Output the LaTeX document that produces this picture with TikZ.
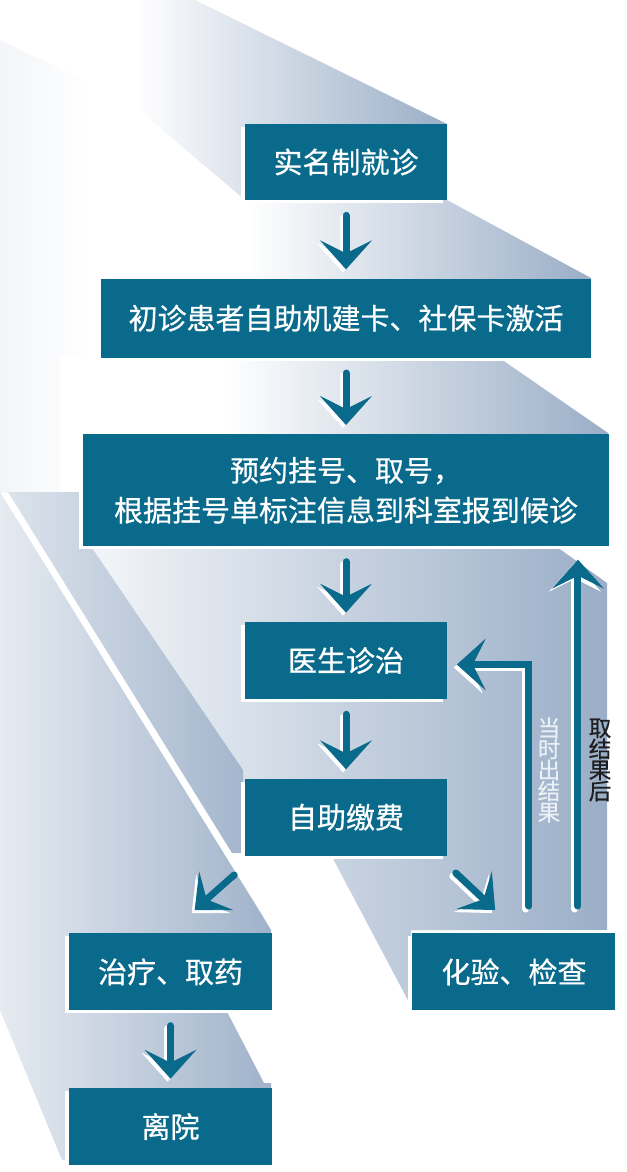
\documentclass[tikz,border=0pt]{standalone}
\usepackage{fontspec}
\newfontfamily\cjk[FakeBold=0.6]{Noto Sans CJK SC}
\usetikzlibrary{arrows.meta, positioning, calc, shadows}
\definecolor{HP_TEAL}{HTML}{0A6A8B}
\definecolor{HP_SLATE}{HTML}{9AAEC7}
\definecolor{HP_PALE}{HTML}{F3F5F8}
\definecolor{HP_SNOW}{HTML}{EAF0F5}
\definecolor{HP_INK}{HTML}{1E1E1E}
\pgfdeclarehorizontalshading{stairfade}{100bp}{color(0bp)=(white); color(25bp)=(white);
  color(40bp)=(white); color(75bp)=(HP_SLATE); color(100bp)=(HP_SLATE)}
\tikzset{
  stage/.style={
    rectangle, inner sep=0pt,
    text centered, align=center,
    fill=HP_TEAL, text=white,
    font=\cjk\fontsize{16.5}{22.7}\selectfont,
    drop shadow={shadow xshift=-0.08cm, shadow yshift=-0.06cm,
      fill=white, opacity=1}},
  narrow/.style={stage, minimum width=4.06cm, minimum height=1.54cm},
  tag/.style={align=center, inner sep=0pt,
    font=\cjk\fontsize{12.8}{12}\selectfont},
  arr/.style={draw=HP_TEAL, line width=0.14cm, line cap=round,
    -{Stealth[length=0.58cm, width=1.04cm, inset=0.26cm, line width=0.5pt]}},
  glint/.style={arr, draw=white,
    transform canvas={xshift=-0.06cm, yshift=-0.06cm}},
}
\begin{document}
\begin{tikzpicture}[x=0.02cm, y=-0.02cm, node distance=1.54cm]

  \useasboundingbox (0,0) rectangle (626,1172);

  % staircase backdrop
  \begin{scope}
    \clip (0,0) rectangle (626,1172);
    \shade[left color=HP_PALE, right color=white]
      (0,0) rectangle (90,492);
    \shade[shading=stairfade]
      (0,0) -- (195,0) -- (447,124) -- (447,200) -- (245,200)
      -- (127,100) -- (0,40) -- cycle;
    \shade[shading=stairfade]
      (120,200) -- (447,200) -- (591,278) -- (591,357)
      -- (101,357) -- (101,260) -- cycle;
    \shade[shading=stairfade]
      (60,357) -- (498,357) -- (608,433) -- (608,545) -- (60,545) -- cycle;
    \shade[left color=HP_SLATE!12, right color=HP_SLATE]
      (90,545) -- (557,547) -- (607,583) -- (607,930) -- (411,930)
      -- (411,1006) -- (330,853) -- (243,853) -- (243,770) -- cycle;
    \shade[left color=HP_SLATE!25, right color=HP_SLATE!95]
      (0,492) -- (262,915) -- (271,930) -- (271,1006) -- (224,1006)
      -- (264,1083) -- (271,1083) -- (271,1160) -- (62,1160)
      -- (0,1010) -- cycle;
    \shade[left color=HP_SLATE!35, right color=HP_SLATE!90]
      (8,492) -- (82,492) -- (82,545) -- (90,545) -- (243,770)
      -- (243,853) -- (232,853) -- cycle;
  \end{scope}

  % steps
  \node[stage, minimum width=4.04cm, minimum height=1.52cm] (visit) at (346,162)
    {实名制就诊};
  \node[stage, minimum width=9.8cm, minimum height=1.58cm, below=1.56cm of visit] (card)
    {初诊患者自助机建卡、社保卡激活};
  \node[stage, minimum width=10.52cm, minimum height=2.24cm, below=1.52cm of card] (book)
    {预约挂号、取号，\\根据挂号单标注信息到科室报到候诊};
  \node[narrow, below=1.5cm of book] (doctor) {医生诊治};
  \node[narrow, below=1.58cm of doctor] (pay) {自助缴费};
  \node[narrow, below=1.54cm of pay, xshift=-3.51cm] (treat) {治疗、取药};
  \node[narrow, below=1.54cm of pay, xshift=3.36cm] (lab) {化验、检查};
  \node[narrow, below=1.54cm of treat] (leave) {离院};

  \coordinate (now) at ([shift={(15,-27)}]lab.north);
  \coordinate (later) at ([shift={(64,-27)}]lab.north);

  \node[tag, text=HP_SNOW] (nowtxt) at (549,770) {当\\时\\出\\结\\果};
  \node[tag, text=HP_INK] (latertxt) at (600,760) {取\\结\\果\\后};

  % arrows
  \foreach \a/\b in {visit/card, card/book, book/doctor, doctor/pay, treat/leave} {
    \draw[glint, shorten <=0.3cm, shorten >=0.18cm] (\a) -- (\b);
    \draw[arr, shorten <=0.3cm, shorten >=0.18cm] (\a) -- (\b);
  }
  \foreach \s in {glint, arr} {
    \draw[\s] ([shift={(-10,19)}]pay.south west) -- ([shift={(126,-23)}]treat.north west);
    \draw[\s] ([shift={(8,17)}]pay.south east) -- ([shift={(83,-23)}]lab.north west);
    \draw[\s, shorten >=0.18cm] (now) |- ([shift={(0,4)}]doctor.east);
    \draw[\s, shorten >=0.26cm] (later) -- (later |- book.south);
  }

\end{tikzpicture}
\end{document}
